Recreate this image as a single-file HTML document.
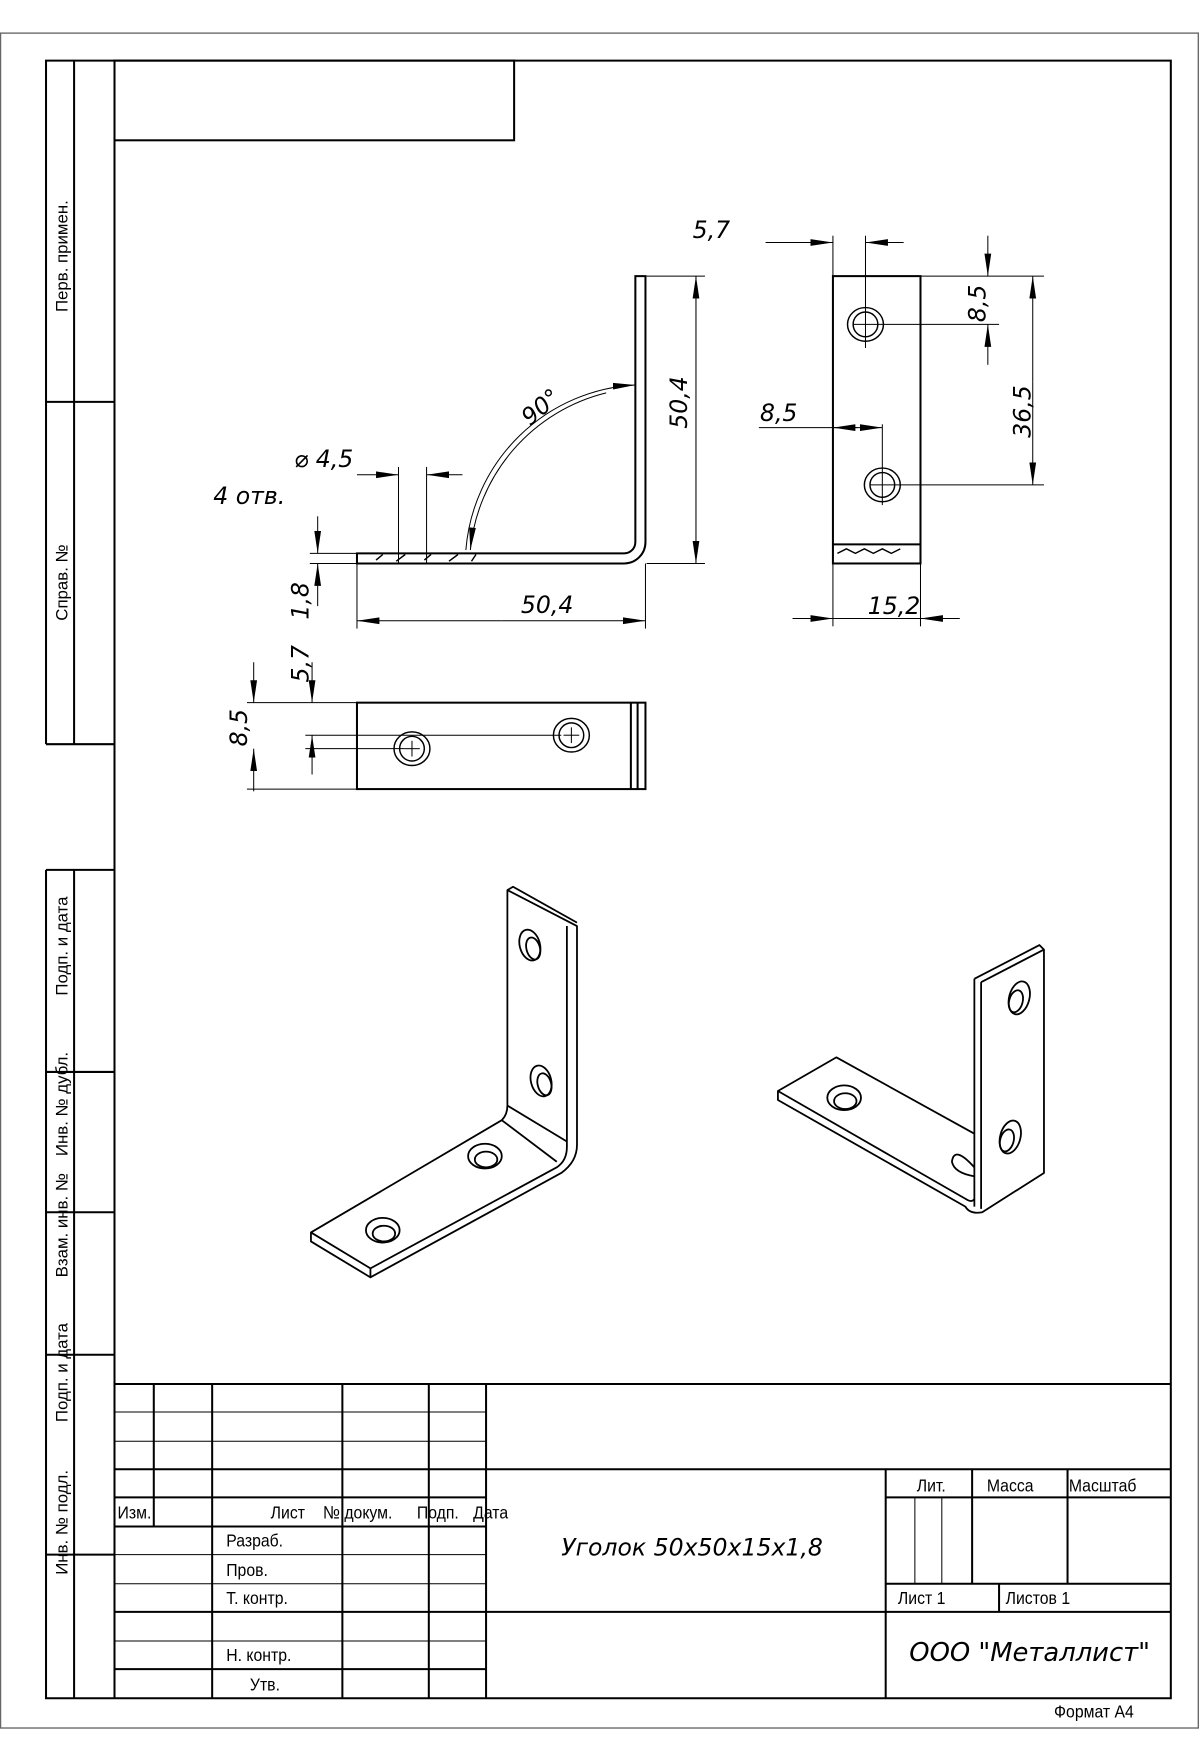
<!DOCTYPE html>
<html><head><meta charset="utf-8"><style>
html,body{margin:0;padding:0;background:#fff;}
svg{display:block;}
text{font-family:"Liberation Sans",sans-serif;fill:#000;}
.it{font-family:"DejaVu Sans","Liberation Sans",sans-serif;font-style:italic;}
</style></head><body>
<svg width="1200" height="1760" viewBox="0 0 1069 1568" preserveAspectRatio="none" xmlns="http://www.w3.org/2000/svg">
<defs>
<marker id="a" viewBox="0 0 20 8" refX="20" refY="4" markerWidth="20" markerHeight="8" markerUnits="userSpaceOnUse" orient="auto"><path d="M0,1 L20,4 L0,7 Z" fill="#000"/></marker>
</defs>
<rect x="0.5" y="29.5" width="1067" height="1510" fill="none" stroke="#666" stroke-width="1.2"/>
<g stroke="#000" fill="none" stroke-width="1.8">
<path d="M41,663 V54 H1043 V1513 H41 V775"/>
<line x1="102" y1="54" x2="102" y2="1513"/>
<rect x="102" y="54" width="356" height="71"/>
<line x1="66" y1="54" x2="66" y2="663"/>
<line x1="41" y1="358" x2="102" y2="358"/>
<line x1="41" y1="663" x2="102" y2="663"/>
<line x1="41" y1="775" x2="102" y2="775"/>
<line x1="66" y1="775" x2="66" y2="1513"/>
<line x1="41" y1="955" x2="102" y2="955"/>
<line x1="41" y1="1080" x2="102" y2="1080"/>
<line x1="41" y1="1207" x2="102" y2="1207"/>
<line x1="41" y1="1385" x2="102" y2="1385"/>
<line x1="102" y1="1233" x2="1043" y2="1233"/>
<line x1="433" y1="1309" x2="1043" y2="1309"/>
<line x1="433" y1="1436" x2="1043" y2="1436"/>
<line x1="433" y1="1233" x2="433" y2="1513"/>
<line x1="102" y1="1309" x2="433" y2="1309"/>
<line x1="102" y1="1334" x2="433" y2="1334"/>
<line x1="102" y1="1360" x2="433" y2="1360"/>
<line x1="102" y1="1436" x2="433" y2="1436"/>
<line x1="102" y1="1487" x2="433" y2="1487"/>
<line x1="137" y1="1233" x2="137" y2="1360"/>
<line x1="189" y1="1233" x2="189" y2="1513"/>
<line x1="305" y1="1233" x2="305" y2="1513"/>
<line x1="382" y1="1233" x2="382" y2="1513"/>
<line x1="789" y1="1309" x2="789" y2="1513"/>
<line x1="789" y1="1334" x2="1043" y2="1334"/>
<line x1="789" y1="1411" x2="1043" y2="1411"/>
<line x1="866" y1="1309" x2="866" y2="1411"/>
<line x1="951" y1="1309" x2="951" y2="1411"/>
<line x1="890" y1="1411" x2="890" y2="1436"/>
</g>
<g stroke="#000" stroke-width="0.9">
<line x1="102" y1="1258" x2="433" y2="1258"/>
<line x1="102" y1="1284" x2="433" y2="1284"/>
<line x1="102" y1="1385" x2="433" y2="1385"/>
<line x1="102" y1="1411" x2="433" y2="1411"/>
<line x1="102" y1="1462" x2="433" y2="1462"/>
<line x1="815" y1="1334" x2="815" y2="1411"/>
<line x1="839" y1="1334" x2="839" y2="1411"/>
</g>
<g font-size="15">
<text transform="translate(60,278) rotate(-90)">Перв. примен.</text>
<text transform="translate(60,553) rotate(-90)">Справ. №</text>
<text transform="translate(60,887) rotate(-90)">Подп. и дата</text>
<text transform="translate(60,1030) rotate(-90)">Инв. № дубл.</text>
<text transform="translate(60,1138) rotate(-90)">Взам. инв. №</text>
<text transform="translate(60,1267) rotate(-90)">Подп. и дата</text>
<text transform="translate(60,1403) rotate(-90)">Инв. № подл.</text>
</g>
<g font-size="16" transform="scale(0.88,1)">
<text x="119" y="1353">Изм.</text>
<text x="274" y="1353">Лист</text>
<text x="327" y="1353">№ докум.</text>
<text x="422" y="1353">Подп.</text>
<text x="479" y="1353">Дата</text>
<text x="229" y="1378">Разраб.</text>
<text x="229" y="1404">Пров.</text>
<text x="229" y="1429">Т. контр.</text>
<text x="229" y="1480">Н. контр.</text>
<text x="253" y="1506">Утв.</text>
<text x="928" y="1329">Лит.</text>
<text x="999" y="1329">Масса</text>
<text x="1082" y="1329">Масштаб</text>
<text x="909" y="1429">Лист 1</text>
<text x="1018" y="1429">Листов 1</text>
<text x="1067" y="1530">Формат А4</text>
</g>
<text class="it" x="500" y="1386" font-size="21">Уголок 50х50х15х1,8</text>
<text class="it" x="810" y="1480" font-size="23">ООО "Металлист"</text>

<g stroke="#000" fill="none" stroke-width="1.8">
<path d="M318,493 H556 A10,10 0 0 0 566,483 V246 H575 V483 A19,19 0 0 1 556,502 H318 Z"/>
<rect x="318" y="626" width="257" height="77"/>
<line x1="562" y1="626" x2="562" y2="703"/>
<line x1="568" y1="626" x2="568" y2="703"/>
<rect x="742" y="246" width="78" height="256"/>
<line x1="742" y1="485" x2="820" y2="485"/>
</g>
<g stroke="#000" fill="none" stroke-width="1.3">
<ellipse cx="367" cy="667" rx="16" ry="15"/><ellipse cx="367" cy="667" rx="11" ry="11"/>
<ellipse cx="509" cy="655" rx="16" ry="15"/><ellipse cx="509" cy="655" rx="11" ry="11"/>
<ellipse cx="771" cy="289" rx="16" ry="15"/><ellipse cx="771" cy="289" rx="11" ry="11"/>
<ellipse cx="786" cy="432" rx="16" ry="15"/><ellipse cx="786" cy="432" rx="11" ry="11"/>
<path d="M335,499 l6,-5 M353,500 l8,-6 M378,499 l6,-5 M400,500 l8,-6 M420,500 l4,-6"/>
<path d="M746,493 l8,-4 l8,4 l8,-4 l8,4 l8,-4 l8,4 l8,-4"/>
</g>
<g stroke="#000" fill="none" stroke-width="0.9">
<line x1="355" y1="416" x2="355" y2="502"/><line x1="380" y1="416" x2="380" y2="502"/>
<line x1="360" y1="667" x2="374" y2="667"/><line x1="367" y1="660" x2="367" y2="674"/>
<line x1="502" y1="655" x2="516" y2="655"/><line x1="509" y1="648" x2="509" y2="662"/>
<line x1="771" y1="210" x2="771" y2="310"/><line x1="760" y1="289" x2="890" y2="289"/>
<line x1="786" y1="378" x2="786" y2="450"/><line x1="775" y1="432" x2="930" y2="432"/>
<line x1="576" y1="246" x2="628" y2="246"/><line x1="576" y1="502" x2="628" y2="502"/>
<line x1="820" y1="246" x2="930" y2="246"/>
<line x1="276" y1="493" x2="318" y2="493"/><line x1="276" y1="502" x2="318" y2="502"/>
<line x1="318" y1="502" x2="318" y2="560"/><line x1="575" y1="502" x2="575" y2="560"/>
<line x1="742" y1="210" x2="742" y2="246"/><line x1="742" y1="502" x2="742" y2="558"/><line x1="820" y1="502" x2="820" y2="558"/>
<line x1="220" y1="626" x2="318" y2="626"/><line x1="220" y1="703" x2="318" y2="703"/>
<line x1="272" y1="655" x2="500" y2="655"/><line x1="272" y1="667" x2="360" y2="667"/>
<line x1="620" y1="502" x2="620" y2="246" marker-end="url(#a)"/><line x1="620" y1="246" x2="620" y2="502" marker-end="url(#a)"/>
<line x1="447" y1="553" x2="318" y2="553" marker-end="url(#a)"/><line x1="447" y1="553" x2="575" y2="553" marker-end="url(#a)"/>
<line x1="318" y1="423" x2="355" y2="423" marker-end="url(#a)"/><line x1="412" y1="423" x2="380" y2="423" marker-end="url(#a)"/>
<path d="M415,490 A160,160 0 0 1 566,343" marker-end="url(#a)"/>
<path d="M540,350 A160,160 0 0 0 419,490" marker-end="url(#a)"/>
<line x1="283" y1="460" x2="283" y2="493" marker-end="url(#a)"/><line x1="283" y1="540" x2="283" y2="502" marker-end="url(#a)"/>
<line x1="278" y1="590" x2="278" y2="626" marker-end="url(#a)"/><line x1="278" y1="690" x2="278" y2="655" marker-end="url(#a)"/>
<line x1="226" y1="590" x2="226" y2="626" marker-end="url(#a)"/><line x1="226" y1="705" x2="226" y2="667" marker-end="url(#a)"/>
<line x1="682" y1="216" x2="742" y2="216" marker-end="url(#a)"/><line x1="805" y1="216" x2="771" y2="216" marker-end="url(#a)"/>
<line x1="880" y1="210" x2="880" y2="246" marker-end="url(#a)"/><line x1="880" y1="325" x2="880" y2="289" marker-end="url(#a)"/>
<line x1="920" y1="340" x2="920" y2="246" marker-end="url(#a)"/><line x1="920" y1="340" x2="920" y2="432" marker-end="url(#a)"/>
<line x1="676" y1="381" x2="764" y2="381"/>
<line x1="764" y1="381" x2="742" y2="381" marker-end="url(#a)"/><line x1="764" y1="381" x2="786" y2="381" marker-end="url(#a)"/>
<line x1="706" y1="551" x2="742" y2="551" marker-end="url(#a)"/><line x1="855" y1="551" x2="820" y2="551" marker-end="url(#a)"/><line x1="742" y1="551" x2="820" y2="551"/>
</g>
<g class="it" font-size="21">
<text class="it" x="617" y="212">5,7</text>
<text class="it" x="190" y="449">4 отв.</text>
<text class="it" x="262" y="416">⌀ 4,5</text>
<text class="it" x="464" y="546">50,4</text>
<text class="it" x="773" y="547">15,2</text>
<text class="it" x="677" y="375">8,5</text>
<text class="it" transform="translate(612,382) rotate(-90)">50,4</text>
<text class="it" transform="translate(878,287) rotate(-90)">8,5</text>
<text class="it" transform="translate(918,390) rotate(-90)">36,5</text>
<text class="it" transform="translate(275,552) rotate(-90)">1,8</text>
<text class="it" transform="translate(275,608) rotate(-90)">5,7</text>
<text class="it" transform="translate(220,665) rotate(-90)">8,5</text>
<text class="it" transform="translate(472,380) rotate(-40)">90°</text>
</g>

<g stroke="#000" fill="none" stroke-width="1.6" stroke-linejoin="round">
<path d="M452,793 L514,825 L514,1020 Q514,1035 500,1045 L330,1138 L277,1106 L277,1098 L447,998 Q452,993 452,985 Z"/>
<path d="M452,793 L457,790 L514,822"/>
<path d="M505,825 V1022 Q505,1034 496,1040 L330,1130 L277,1098"/>
<line x1="330" y1="1130" x2="330" y2="1138"/>
<path d="M452,985 L505,1017"/><path d="M447,998 L496,1035"/>
<ellipse cx="472" cy="842" rx="9" ry="14" transform="rotate(-15 472 842)"/><ellipse cx="475" cy="845" rx="6" ry="10" transform="rotate(-15 475 845)"/>
<ellipse cx="482" cy="963" rx="9" ry="14" transform="rotate(-15 482 963)"/><ellipse cx="485" cy="966" rx="6" ry="10" transform="rotate(-15 485 966)"/>
<ellipse cx="432" cy="1030" rx="15" ry="11"/><ellipse cx="433" cy="1033" rx="10" ry="7"/>
<ellipse cx="341" cy="1096" rx="15" ry="11"/><ellipse cx="342" cy="1099" rx="10" ry="7"/>
</g>
<g stroke="#000" fill="none" stroke-width="1.6" stroke-linejoin="round">
<path d="M868,872 L926,842 L930,846 V1045 L875,1080 Q864,1082 860,1075 L693,980 L693,972 L745,942 L868,1010"/>
<path d="M868,872 V1075"/><path d="M874,875 L930,846"/><path d="M874,875 V1077"/>
<path d="M693,972 L860,1068 Q866,1072 868,1068"/>
<ellipse cx="908" cy="889" rx="9" ry="15" transform="rotate(15 908 889)"/><ellipse cx="905" cy="892" rx="6" ry="10" transform="rotate(15 905 892)"/>
<ellipse cx="900" cy="1013" rx="9" ry="15" transform="rotate(15 900 1013)"/><ellipse cx="897" cy="1016" rx="6" ry="10" transform="rotate(15 897 1016)"/>
<ellipse cx="752" cy="978" rx="15" ry="11"/><ellipse cx="753" cy="981" rx="10" ry="7"/>
<path d="M868,1040 Q850,1020 848,1035 Q850,1045 868,1048"/>
</g>
</svg>
</body></html>
